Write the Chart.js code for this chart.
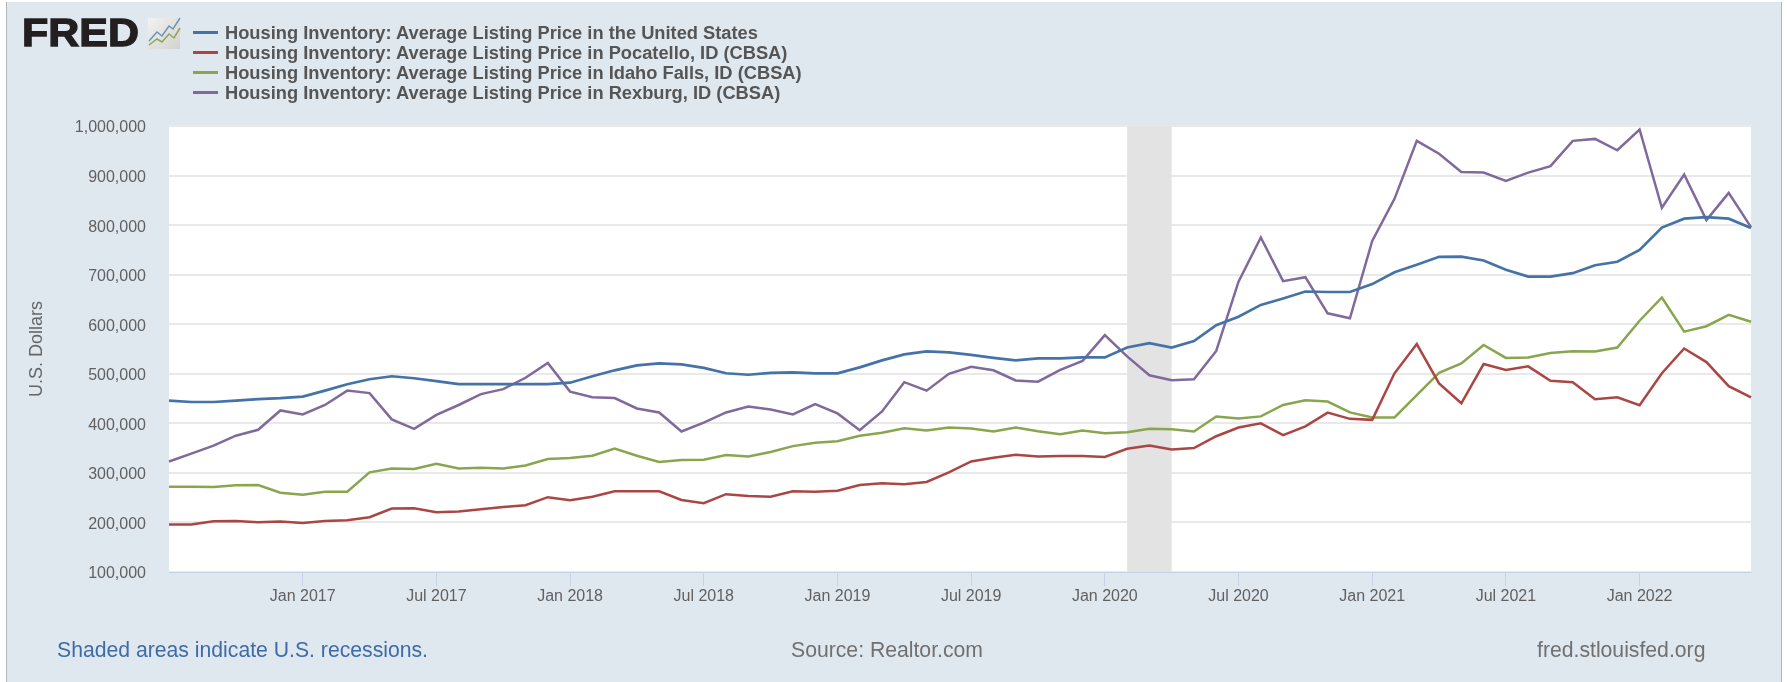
<!DOCTYPE html>
<html>
<head>
<meta charset="utf-8">
<title>FRED Housing Inventory</title>
<script src="https://cdn.jsdelivr.net/npm/chart.js@4"></script>
<style>
  html, body { margin: 0; padding: 0; background: #fff; }
  #panel { position: absolute; left: 6px; top: 2px; width: 1776px; height: 680px; background: #dfe7ef; border-left: 1px solid #b5b5b5; border-right: 1px solid #b5b5b5; box-sizing: border-box; }
  #cv { position: absolute; left: 0; top: 0; }
  .txt { position: absolute; font-family: "Liberation Sans", Arial, sans-serif; white-space: nowrap; }
  #logo { left: 22px; top: 11px; font-size: 38px; line-height: 44px; font-weight: bold; color: #231f20; -webkit-text-stroke: 1.3px #231f20; transform: scaleX(1.13); transform-origin: left top; }
  #icon { position: absolute; left: 148px; top: 17px; }
  #legend { left: 193px; top: 23px; font-size: 18.3px; line-height: 19.9px; font-weight: bold; color: #555; }
  #legend i { display: inline-block; width: 25px; height: 3px; margin-right: 7px; vertical-align: 5px; }
  .foot { top: 638px; font-size: 21.2px; line-height: 24px; color: #707070; }
</style>
</head>
<body>
<div id="panel"></div>
<canvas id="cv" width="1787" height="682"></canvas>
<div class="txt" id="logo">FRED</div>
<svg id="icon" width="33" height="32">
  <defs><linearGradient id="g" x1="0" y1="0" x2="1" y2="1"><stop offset="0" stop-color="#f2f2f0"/><stop offset="1" stop-color="#d2d2d0"/></linearGradient></defs>
  <rect x="0" y="1" width="32" height="31" fill="url(#g)"/>
  <polyline points="1,24 9,15 14,19 21,9 25,12 32,1" fill="none" stroke="#6d93b8" stroke-width="1.5"/>
  <polyline points="1,28 9,22 14,25 21,17 26,21 32,11" fill="none" stroke="#8aa85a" stroke-width="1.5"/>
</svg>
<div class="txt" id="legend"></div>
<div class="txt foot" style="left:57px;color:#3f6ca6">Shaded areas indicate U.S. recessions.</div>
<div class="txt foot" style="left:791px">Source: Realtor.com</div>
<div class="txt foot" style="left:1537px">fred.stlouisfed.org</div>
<script>
const MONTHS = ['Jan','Feb','Mar','Apr','May','Jun','Jul','Aug','Sep','Oct','Nov','Dec']

// Jul 2016 .. Jun 2022, monthly
const months = []
for (let y = 2016; y <= 2022; y++) {
  MONTHS.forEach((m, i) => {
    if ((y == 2016 && i < 6) || (y == 2022 && i > 5)) return
    months.push(m + ' ' + y)
  })
}

const seriesNames = [
  'Housing Inventory: Average Listing Price in the United States',
  'Housing Inventory: Average Listing Price in Pocatello, ID (CBSA)',
  'Housing Inventory: Average Listing Price in Idaho Falls, ID (CBSA)',
  'Housing Inventory: Average Listing Price in Rexburg, ID (CBSA)'
]
const seriesColors = ['#4572a7', '#aa4643', '#89a54e', '#80699b']
const seriesWidths = [2.7, 2.5, 2.5, 2.5]

const unitedStates = [
  446000,443000,443000,446000,449000,451000,454000,466000,479000,489000,495000,491000,
  485000,479000,479000,479000,479000,479000,482000,495000,507000,517000,521000,519000,
  512000,501000,498000,502000,503000,501000,501000,513000,527000,539000,545000,543000,
  538000,532000,527000,531000,531000,533000,533000,553000,562000,553000,566000,598000,
  615000,639000,652000,666000,665000,665000,681000,705000,720000,736000,736500,728500,
  710000,696000,696000,703000,719000,726000,750000,795000,813000,816000,813000,794000
]
const pocatello = [
  196000,196000,202500,203000,200500,202000,199000,203000,204500,210600,228000,228700,
  220600,222000,226700,231000,234700,251000,244800,252000,263000,263000,263000,245400,
  238700,257000,253500,252000,263000,262000,264000,275600,279000,277000,281600,301000,
  323000,330600,336600,333000,334000,334000,332000,348600,355000,347000,350000,374000,
  391500,400000,376000,394000,421700,409000,407000,501000,560000,480700,440500,519600,
  507500,515000,486000,483000,448500,452500,436500,501000,551000,523600,475000,452500
]
const idahoFalls = [
  272000,272000,271600,275000,275600,260000,256000,262000,262000,301000,309000,308000,
  318500,309000,310500,309000,315000,328000,330000,334600,349000,334600,322000,326000,
  326500,336000,333000,342000,354000,361000,364000,375000,381000,390000,385500,391500,
  389500,383500,391500,384000,378000,385500,380000,382000,389000,388000,383500,413700,
  409600,414000,437000,446500,444000,422000,412000,412000,457000,502000,521000,558000,
  532000,533000,541700,545700,545000,553000,607000,654000,585000,596000,619000,605000
]
const rexburg = [
  323000,339000,355000,375000,387000,426000,418000,437000,466000,461000,408000,389000,
  417000,437000,459000,469000,492000,522000,464000,452500,451000,430000,422000,383500,
  401600,422000,434000,428000,418000,439000,420000,386000,424000,483000,466000,500000,
  514000,507000,486500,484000,508000,526000,578000,535000,497000,487000,489000,546000,
  686000,775000,687000,695000,622000,612000,768000,853000,970000,944000,907000,906000,
  889000,906000,919000,970000,974000,951000,993000,835000,902000,810000,865000,796000
]
const seriesValues = [unitedStates, pocatello, idahoFalls, rexburg]

const yTicks = [100000,200000,300000,400000,500000,600000,700000,800000,900000,1000000]
const recessions = [['Feb 2020', 'Apr 2020']]

/**
 * White plot background and the grey recession bands
 */
const plotBackground = {
  id: 'plotBackground',
  beforeDatasetsDraw(chart) {
    const { ctx, chartArea: a, scales: { x } } = chart
    ctx.save()
    ctx.fillStyle = '#e3e3e3'
    recessions.forEach(r => {
      const x0 = x.getPixelForValue(months.indexOf(r[0]))
      const x1 = x.getPixelForValue(months.indexOf(r[1]))
      ctx.fillRect(x0, a.top, x1 - x0, a.bottom - a.top)
    })
    ctx.restore()
  },
  beforeDraw(chart) {
    const { ctx, chartArea: a } = chart
    ctx.save()
    ctx.fillStyle = '#fff'
    ctx.fillRect(a.left, a.top, a.right - a.left, a.bottom - a.top)
    ctx.restore()
  }
}

new Chart(document.getElementById('cv').getContext('2d'), {
  type: 'line',
  data: {
    labels: months,
    datasets: seriesNames.map((name, i) => ({
      label: name,
      data: seriesValues[i],
      borderColor: seriesColors[i],
      borderWidth: seriesWidths[i],
      pointRadius: 0,
      tension: 0,
      fill: false
    }))
  },
  options: {
    responsive: false,
    animation: false,
    layout: { padding: { left: 26, top: 126, right: 36, bottom: 0 } },
    plugins: { legend: { display: false }, tooltip: { enabled: false } },
    scales: {
      x: {
        type: 'category',
        offset: false,
        afterBuildTicks: s => { s.ticks = s.ticks.filter(t => /Jan|Jul/.test(months[t.value]) && t.value > 0) },
        afterFit: s => { s.height = 110 },
        grid: { drawOnChartArea: false, tickLength: 14, tickColor: '#c6d3e6', lineWidth: 1 },
        border: { color: '#c6d3e6', width: 1 },
        ticks: {
          autoSkip: false, maxRotation: 0, padding: 1,
          color: '#616161', font: { family: 'Liberation Sans', size: 16 }
        }
      },
      y: {
        min: 100000,
        max: 1000000,
        afterBuildTicks: s => { s.ticks = yTicks.map(v => ({ value: v })) },
        afterFit: s => { s.width = 143 },
        grid: { color: '#e9e9e9', lineWidth: 2, drawTicks: false },
        border: { display: false },
        title: { display: true, text: 'U.S. Dollars', color: '#666', padding: 0, font: { family: 'Liberation Sans', size: 18 } },
        ticks: {
          padding: 23, labelOffset: 2, color: '#616161', font: { family: 'Liberation Sans', size: 16 },
          callback: v => v.toLocaleString('en-US')
        }
      }
    }
  },
  plugins: [plotBackground]
})

document.getElementById('legend').innerHTML = seriesNames
  .map((n, i) => '<div><i style="background:' + seriesColors[i] + '"></i>' + n + '</div>').join('')
</script>
</body>
</html>
